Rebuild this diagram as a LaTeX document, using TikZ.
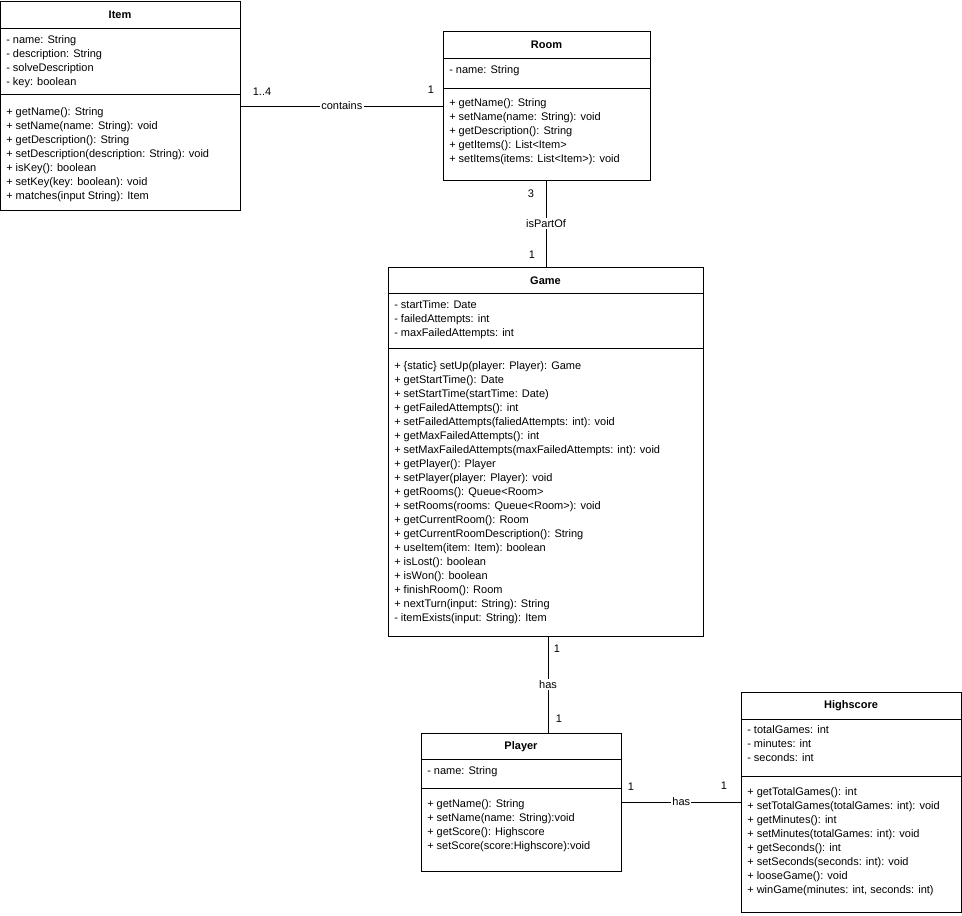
\documentclass[tikz,border=0pt]{standalone}
\usepackage{fontspec}
\setmainfont{Liberation Sans}
\usetikzlibrary{calc}

\tikzset{
  cls/.style={draw, anchor=north west, inner sep=0pt},
  title/.style={font=\fontsize{8.25}{10.5}\selectfont\bfseries, inner sep=0pt},
  members/.style={anchor=north west, align=left, inner sep=0pt,
                  font=\fontsize{8.25}{10.5}\selectfont},
  mult/.style={font=\fontsize{8.25}{10}\selectfont, inner sep=1pt},
  role/.style={fill=white, font=\fontsize{8.25}{10}\selectfont, inner sep=1pt}
}

\begin{document}
\begin{tikzpicture}[x=0.75pt,y=-0.75pt]
\useasboundingbox (0,0) rectangle (962,915);

% Item
\node[cls, minimum width=180pt, minimum height=156.75pt] (item) at (0,1) {};
\node[title] (itemT) at (120,15) {Item};
\draw ($(item.north west)+(0,27)$) -- ++(240,0);
\draw ($(item.north west)+(0,93)$) -- ++(240,0);
\node[members] (itemA) at (6,35) {- name: String\\- description: String\\- solveDescription\\- key: boolean};
\node[members] (itemM) at (6,107) {+ getName(): String\\+ setName(name: String): void\\+ getDescription(): String\\+ setDescription(description: String): void\\+ isKey(): boolean\\+ setKey(key: boolean): void\\+ matches(input String): Item};

% Room
\node[cls, minimum width=155.25pt, minimum height=111.75pt] (room) at (443,31) {};
\node[title] (roomT) at (546.5,45) {Room};
\draw ($(room.north west)+(0,27)$) -- ++(207,0);
\draw ($(room.north west)+(0,57)$) -- ++(207,0);
\node[members] (roomA) at (449,65) {- name: String};
\node[members] (roomM) at (449,98) {+ getName(): String\\+ setName(name: String): void\\+ getDescription(): String\\+ getItems(): List<Item>\\+ setItems(items: List<Item>): void};

% Game
\node[cls, minimum width=236.25pt, minimum height=276.75pt] (game) at (388,267) {};
\node[title] (gameT) at (545.5,281) {Game};
\draw ($(game.north west)+(0,26)$) -- ++(315,0);
\draw ($(game.north west)+(0,81)$) -- ++(315,0);
\node[members] (gameA) at (394,300) {- startTime: Date\\- failedAttempts: int\\- maxFailedAttempts: int};
\node[members] (gameM) at (394,361) {+ \{static\} setUp(player: Player): Game\\+ getStartTime(): Date\\+ setStartTime(startTime: Date)\\+ getFailedAttempts(): int\\+ setFailedAttempts(faliedAttempts: int): void\\+ getMaxFailedAttempts(): int\\+ setMaxFailedAttempts(maxFailedAttempts: int): void\\+ getPlayer(): Player\\+ setPlayer(player: Player): void\\+ getRooms(): Queue<Room>\\+ setRooms(rooms: Queue<Room>): void\\+ getCurrentRoom(): Room\\+ getCurrentRoomDescription(): String\\+ useItem(item: Item): boolean\\+ isLost(): boolean\\+ isWon(): boolean\\+ finishRoom(): Room\\+ nextTurn(input: String): String\\- itemExists(input: String): Item};

% Player
\node[cls, minimum width=150pt, minimum height=103.5pt] (player) at (421,733) {};
\node[title] (playerT) at (521,747) {Player};
\draw ($(player.north west)+(0,26)$) -- ++(200,0);
\draw ($(player.north west)+(0,55)$) -- ++(200,0);
\node[members] (playerA) at (427,766) {- name: String};
\node[members] (playerM) at (427,799) {+ getName(): String\\+ setName(name: String):void\\+ getScore(): Highscore\\+ setScore(score:Highscore):void};

% Highscore
\node[cls, minimum width=165pt, minimum height=165pt] (hs) at (741,692) {};
\node[title] (hsT) at (851,706) {Highscore};
\draw ($(hs.north west)+(0,27)$) -- ++(220,0);
\draw ($(hs.north west)+(0,84)$) -- ++(220,0);
\node[members] (hsA) at (747,725) {- totalGames: int\\- minutes: int\\- seconds: int};
\node[members] (hsM) at (747,787) {+ getTotalGames(): int\\+ setTotalGames(totalGames: int): void\\+ getMinutes(): int\\+ setMinutes(totalGames: int): void\\+ getSeconds(): int\\+ setSeconds(seconds: int): void\\+ looseGame(): void\\+ winGame(minutes: int, seconds: int)};

% associations
\draw (item.east |- 0,106) -- node[role] {contains} (room.west |- 0,106);
\node[mult] at (262,92) {1..4};
\node[mult] at (431,90) {1};

\draw (room.south -| 546,0) -- node[role] {isPartOf} (game.north -| 546,0);
\node[mult] at (531,194) {3};
\node[mult] at (532,255) {1};

\draw (game.south -| 548,0) -- node[role] {has} (player.north -| 548,0);
\node[mult] at (557,649) {1};
\node[mult] at (559,719) {1};

\draw (player.east |- 0,802) -- node[role] {has} (hs.west |- 0,802);
\node[mult] at (631,787) {1};
\node[mult] at (724,786) {1};
\end{tikzpicture}
\end{document}
